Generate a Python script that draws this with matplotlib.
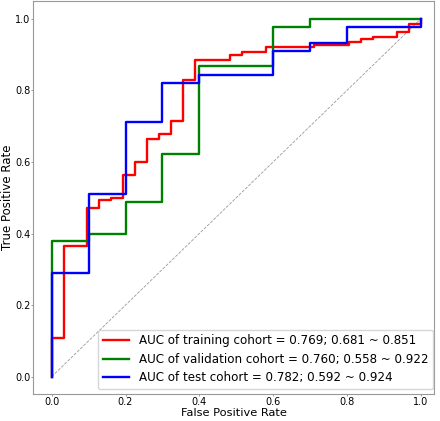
import matplotlib
matplotlib.use("Agg")
import matplotlib.pyplot as plt

# ROC points (training: 31 neg, validation/test: 10 neg)
train_fpr = [0, 0, 1/31, 1/31, 3/31, 3/31, 4/31, 4/31, 5/31, 5/31, 6/31, 6/31,
             7/31, 7/31, 8/31, 8/31, 9/31, 9/31, 10/31, 10/31, 11/31, 11/31,
             12/31, 12/31, 15/31, 15/31, 16/31, 16/31, 18/31, 18/31, 22/31, 22/31,
             25/31, 25/31, 26/31, 26/31, 27/31, 27/31, 29/31, 29/31, 30/31, 30/31,
             1, 1]
train_tpr = [0, 0.107, 0.107, 0.364, 0.364, 0.471, 0.471, 0.493, 0.493, 0.500,
             0.500, 0.564, 0.564, 0.600, 0.600, 0.664, 0.664, 0.679, 0.679, 0.714,
             0.714, 0.829, 0.829, 0.886, 0.886, 0.900, 0.900, 0.907, 0.907, 0.921,
             0.921, 0.927, 0.927, 0.936, 0.936, 0.943, 0.943, 0.950, 0.950, 0.964,
             0.964, 0.986, 0.986, 1.0]

valid_fpr = [0, 0, 0.1, 0.1, 0.2, 0.2, 0.3, 0.3, 0.4, 0.4, 0.6, 0.6, 0.7, 0.7, 1.0]
valid_tpr = [0, 0.378, 0.378, 0.400, 0.400, 0.489, 0.489, 0.622, 0.622, 0.867,
             0.867, 0.978, 0.978, 1.0, 1.0]

test_fpr = [0, 0, 0.1, 0.1, 0.2, 0.2, 0.3, 0.3, 0.4, 0.4, 0.6, 0.6, 0.7, 0.7,
            0.8, 0.8, 1.0, 1.0]
test_tpr = [0, 0.289, 0.289, 0.511, 0.511, 0.711, 0.711, 0.822, 0.822, 0.844,
            0.844, 0.911, 0.911, 0.933, 0.933, 0.978, 0.978, 1.0]

labels = [
    "AUC of training cohort = 0.769; 0.681 ~ 0.851",
    "AUC of validation cohort = 0.760; 0.558 ~ 0.922",
    "AUC of test cohort = 0.782; 0.592 ~ 0.924",
]
colors = ["red", "green", "blue"]

fig = plt.figure(figsize=(4.4, 4.21), dpi=100)
ax = fig.add_axes([0.0757, 0.0630, 0.9107, 0.9346])

ax.plot([0, 1], [0, 1], linestyle="--", color="gray", linewidth=0.6, alpha=0.8)
ax.plot(train_fpr, train_tpr, color=colors[0], linewidth=1.7, label=labels[0])
ax.plot(valid_fpr, valid_tpr, color=colors[1], linewidth=1.7, label=labels[1])
ax.plot(test_fpr, test_tpr, color=colors[2], linewidth=1.7, label=labels[2])

ax.set_xlim(-0.05, 1.036)
ax.set_ylim(-0.05, 1.05)
ax.set_xticks([0.0, 0.2, 0.4, 0.6, 0.8, 1.0])
ax.set_yticks([0.0, 0.2, 0.4, 0.6, 0.8, 1.0])
ax.tick_params(labelsize=7, length=1.5, width=0.6, pad=0.5, color="#888888")
for s in ax.spines.values():
    s.set_color("#999999")
    s.set_linewidth(0.8)

ax.set_xlabel("False Positive Rate", fontsize=8.2)
ax.set_ylabel("True Positive Rate", fontsize=8.5)
ax.xaxis.set_label_coords(0.5, -0.035)
ax.yaxis.set_label_coords(-0.049, 0.5)
ax.legend(loc="lower right", bbox_to_anchor=(0.9975, 0.014), borderaxespad=0,
          fontsize=8.6, handlelength=2.2, borderpad=0.4, labelspacing=0.45,
          framealpha=0.8)

fig.savefig("out.png", dpi=100)
